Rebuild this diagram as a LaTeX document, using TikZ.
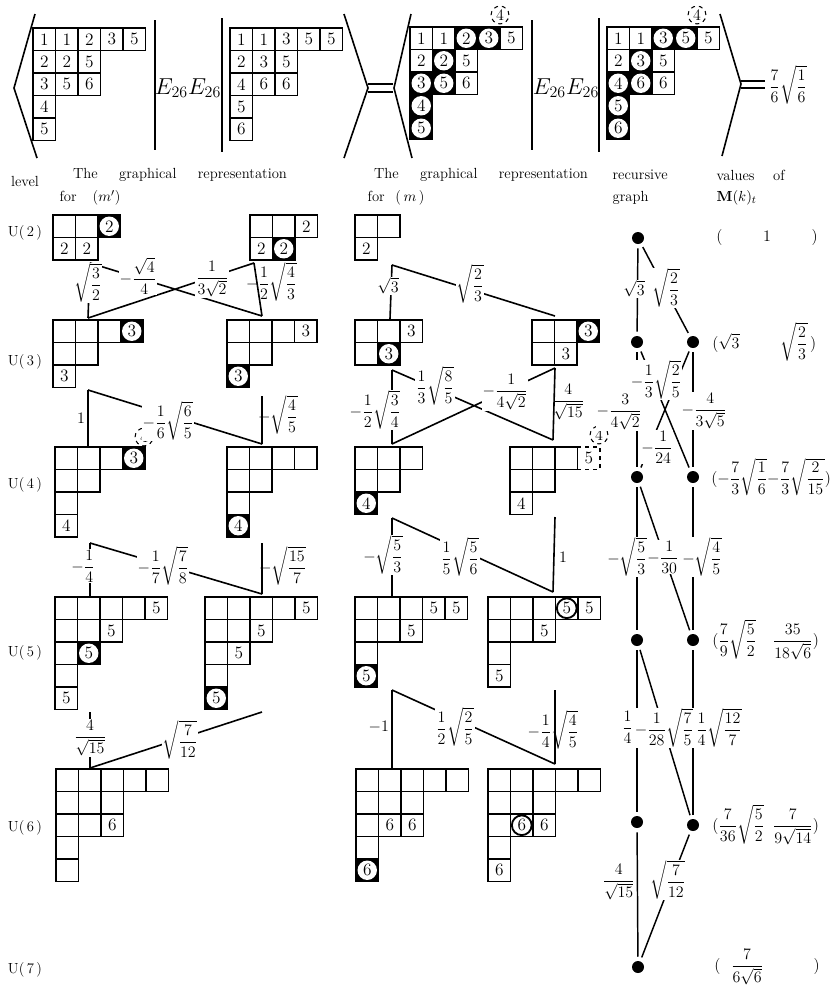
\documentclass[tikz,border=0pt]{standalone}
\usepackage{amsmath,amssymb}
\usepackage{tikz}
\usetikzlibrary{calc}

\tikzset{
  cl/.style={draw,line width=1.4pt,minimum size=16.9pt,inner sep=0pt,font=\fontsize{13}{15}\selectfont},
  cc/.style={cl,fill=black,path picture={\fill[white] (path picture bounding box.center) circle (7.3pt);}},
  cw/.style={cl,path picture={\draw[line width=1.4pt] (path picture bounding box.center) circle (7.4pt);}},
  cd/.style={cl,dashed,line width=1pt},
  dc/.style={circle,draw,dashed,line width=0.8pt,inner sep=1.2pt,font=\large},
  brk/.style={line width=1.2pt},
  conn/.style={line width=1.2pt},
  gedge/.style={line width=1.1pt,shorten <=3pt,shorten >=3pt},
  gdot/.style={circle,fill=black,inner sep=0pt,minimum size=9pt},
  lab/.style={fill=white,inner sep=0.6pt,font=\large},
  labn/.style={inner sep=0.6pt,font=\large},
  hd/.style={inner sep=1pt,font=\fontsize{11}{13}\selectfont},
  val/.style={inner sep=0pt,font=\large}
}

% one tableau: name, left, top, rows of entry/style
\newcommand{\tableau}[4]{%
  \foreach \row [count=\r from 0] in {#4}{%
    \foreach \e/\s [count=\i from 0] in \row{%
      \node[\s] (#1-\r-\i) at ({#2+\i*22.5+11.25},{#3+\r*22.5+11.25}) {\e};}}}

\begin{document}
\begin{tikzpicture}[x=0.75pt,y=-0.75pt]
  \useasboundingbox (0,0) rectangle (829,986);
  % Top identity
  \draw[brk] (35,14) -- (14,88) -- (37,158);
  \tableau{T1}{33}{28}{{1/cl,1/cl,2/cl,3/cl,5/cl},{2/cl,2/cl,5/cl},{3/cl,5/cl,6/cl},{4/cl},{5/cl}}
  \draw[brk] (155,20) -- (155,150);
  \node[inner sep=0pt] (E1) at (188,88) {\LARGE $E_{26}E_{26}$};
  \draw[brk] (222,18) -- (222,152);
  \tableau{T2}{230}{28}{{1/cl,1/cl,3/cl,5/cl,5/cl},{2/cl,3/cl,5/cl},{4/cl,6/cl,6/cl},{5/cl},{6/cl}}
  \draw[brk] (344,14) -- (368,88) -- (344,158);
  \draw[brk] (368,84) -- (393,84) (368,92) -- (393,92);
  \draw[brk] (411,14) -- (394,88) -- (412,158);
  \tableau{T3}{410}{27}{{1/cl,1/cl,2/cc,3/cc,5/cl},{2/cl,2/cc,5/cl},{3/cc,5/cc,6/cl},{4/cc},{5/cc}}
  \node[dc] (T3x) at (500,15) {4};
  \draw[brk] (532,20) -- (532,150);
  \node[inner sep=0pt] (E2) at (566,88) {\LARGE $E_{26}E_{26}$};
  \draw[brk] (599,18) -- (599,152);
  \tableau{T4}{607}{27}{{1/cl,1/cl,3/cc,5/cc,5/cl},{2/cl,3/cc,5/cl},{4/cc,6/cc,6/cl},{5/cc},{6/cc}}
  \node[dc] (T4x) at (697,15) {4};
  \draw[brk] (720,14) -- (741,84) -- (722,156);
  \draw[brk] (741,81) -- (765,81) (741,88) -- (765,88);
  \node[val] (val0) at (788,85) {$\dfrac{7}{6}\sqrt{\dfrac{1}{6}}$};
  % Headings
  \node[hd] (hlevel) at (25,181) {level};
  \node[hd] (hrep1) at (180,175) {The\hspace{16pt}graphical\hspace{16pt}representation};
  \node[hd] (hfor1) at (90,198) {for\hspace{12pt}($m'$)};
  \node[hd] (hrep2) at (481,175) {The\hspace{16pt}graphical\hspace{16pt}representation};
  \node[hd] (hfor2) at (396,198) {for\hspace{8pt}(\,$m$\,)};
  \node[hd,anchor=west] (hrec) at (611,175) {recursive};
  \node[hd,anchor=west] (hgraph) at (611,198) {graph};
  \node[hd,anchor=west] (hval) at (715,175) {values\hspace{14pt}of};
  \node[hd,anchor=west] (hM) at (715,198) {$\mathbf{M}(k)_{t}$};
  % Levels
  \foreach \k/\yy in {2/233,3/362,4/485,5/653,6/828,7/970}
    \node[hd] (lv\k) at (25,\yy) {U(\,\k\,)};
  % Tableaux for (m')
  \tableau{A2}{53}{215}{{/cl,/cl,2/cc},{2/cl,2/cl}}
  \tableau{B2}{250}{215}{{/cl,/cl,2/cl},{2/cl,2/cc}}
  \tableau{A3}{53}{320}{{/cl,/cl,/cl,3/cc},{/cl,/cl},{3/cl}}
  \tableau{B3}{227}{320}{{/cl,/cl,/cl,3/cl},{/cl,/cl},{3/cc}}
  \tableau{A4}{55}{447}{{/cl,/cl,/cl,3/cc},{/cl,/cl},{/cl},{4/cl}}
  \node[dc] (A4x) at (144,437) {4};
  \tableau{B4}{227}{447}{{/cl,/cl,/cl,/cl},{/cl,/cl},{/cl},{4/cc}}
  \tableau{A5}{55}{597}{{/cl,/cl,/cl,/cl,5/cl},{/cl,/cl,5/cl},{/cl,5/cc},{/cl},{5/cl}}
  \tableau{B5}{205}{597}{{/cl,/cl,/cl,/cl,5/cl},{/cl,/cl,5/cl},{/cl,5/cl},{/cl},{5/cc}}
  \tableau{A6}{56}{769}{{/cl,/cl,/cl,/cl,/cl},{/cl,/cl,/cl},{/cl,/cl,6/cl},{/cl},{/cl}}
  % Tableaux for (m)
  \tableau{C2}{355}{215}{{/cl,/cl},{2/cl}}
  \tableau{C3}{355}{320}{{/cl,/cl,3/cl},{/cl,3/cc}}
  \tableau{D3}{532}{320}{{/cl,/cl,3/cc},{/cl,3/cl}}
  \tableau{C4}{355}{447}{{/cl,/cl,/cl},{/cl,/cl},{4/cc}}
  \tableau{D4}{510}{447}{{/cl,/cl,/cl,5/cd},{/cl,/cl},{4/cl}}
  \node[dc] (D4x) at (599,435) {4};
  \tableau{C5}{355}{597}{{/cl,/cl,/cl,5/cl,5/cl},{/cl,/cl,5/cl},{/cl},{5/cc}}
  \tableau{D5}{488}{597}{{/cl,/cl,/cl,5/cw,5/cl},{/cl,/cl,5/cl},{/cl},{5/cl}}
  \tableau{C6}{356}{769}{{/cl,/cl,/cl,/cl,/cl},{/cl,/cl,/cl},{/cl,6/cl,6/cl},{/cl},{6/cc}}
  \tableau{D6}{488}{769}{{/cl,/cl,/cl,/cl,/cl},{/cl,/cl,/cl},{/cl,6/cw,6/cl},{/cl},{6/cl}}
  % Connection points
  \coordinate (a2b) at (90,263);  \coordinate (b2b) at (254,263);
  \coordinate (a3t) at (88,318);  \coordinate (b3t) at (262,316);
  \coordinate (a3b) at (88,390);  \coordinate (b3b) at (262,396);
  \coordinate (a4t) at (88,447);  \coordinate (b4t) at (262,444);
  \coordinate (a4b) at (90,543);  \coordinate (b4b) at (262,543);
  \coordinate (a5t) at (90,597);  \coordinate (b5t) at (262,594);
  \coordinate (a5b) at (90,712);  \coordinate (b5b) at (262,712);
  \coordinate (a6t) at (90,768);
  \coordinate (c2b) at (392,265);
  \coordinate (c3t) at (390,319); \coordinate (d3t) at (555,316);
  \coordinate (c3b) at (392,370); \coordinate (d3b) at (555,368);
  \coordinate (c4t) at (392,444); \coordinate (d4t) at (553,440);
  \coordinate (c4b) at (392,518); \coordinate (d4b) at (555,517);
  \coordinate (c5t) at (392,597); \coordinate (d5t) at (553,592);
  \coordinate (c5b) at (392,690); \coordinate (d5b) at (555,690);
  \coordinate (c6t) at (392,768); \coordinate (d6t) at (555,764);
  % Connectors (m')
  \draw[conn] (a2b) -- (a3t) (a2b) -- (b3t) (b2b) -- (a3t) (b2b) -- (b3t);
  \draw[conn] (a3b) -- (a4t) (a3b) -- (b4t) (b3b) -- (b4t);
  \draw[conn] (a4b) -- (a5t) (a4b) -- (b5t) (b4b) -- (b5t);
  \draw[conn] (a5b) -- (a6t) (b5b) -- (a6t);
  % Connectors (m)
  \draw[conn] (c2b) -- (c3t) (c2b) -- (d3t);
  \draw[conn] (c3b) -- (c4t) (c3b) -- (d4t) (d3b) -- (c4t) (d3b) -- (d4t);
  \draw[conn] (c4b) -- (c5t) (c4b) -- (d5t) (d4b) -- (d5t);
  \draw[conn] (c5b) -- (c6t) (c5b) -- (d6t) (d5b) -- (d6t);
  % Labels (m')
  \node[lab] (l1) at (88,283) {$\sqrt{\dfrac{3}{2}}$};
  \node[lab] (l2) at (138,276) {$-\dfrac{\sqrt{4}}{4}$};
  \node[lab] (l3) at (212,279) {$\dfrac{1}{3\sqrt{2}}$};
  \node[labn,anchor=west] (l4) at (245,282) {$-\dfrac{1}{2}\sqrt{\dfrac{4}{3}}$};
  \node[labn,anchor=east] (l5) at (86,418) {$1$};
  \node[lab] (l6) at (168,421) {$-\dfrac{1}{6}\sqrt{\dfrac{6}{5}}$};
  \node[labn,anchor=west] (l7) at (257,415) {$-\sqrt{\dfrac{4}{5}}$};
  \node[lab] (l8) at (83,566) {$-\dfrac{1}{4}$};
  \node[lab] (l9) at (163,566) {$-\dfrac{1}{7}\sqrt{\dfrac{7}{8}}$};
  \node[labn,anchor=west] (l10) at (258,566) {$-\sqrt{\dfrac{15}{7}}$};
  \node[lab] (l11) at (90,738) {$\dfrac{4}{\sqrt{15}}$};
  \node[lab] (l12) at (180,740) {$\sqrt{\dfrac{7}{12}}$};
  % Labels (m)
  \node[lab] (l13) at (388,286) {$\sqrt{3}$};
  \node[lab] (l14) at (470,284) {$\sqrt{\dfrac{2}{3}}$};
  \node[lab] (l15) at (375,410) {$-\dfrac{1}{2}\sqrt{\dfrac{3}{4}}$};
  \node[lab] (l16) at (435,386) {$\dfrac{1}{3}\sqrt{\dfrac{8}{5}}$};
  \node[lab] (l17) at (505,392) {$-\dfrac{1}{4\sqrt{2}}$};
  \node[labn,anchor=west] (l18) at (551,402) {$\dfrac{4}{\sqrt{15}}$};
  \node[lab] (l19) at (383,555) {$-\sqrt{\dfrac{5}{3}}$};
  \node[lab] (l20) at (460,557) {$\dfrac{1}{5}\sqrt{\dfrac{5}{6}}$};
  \node[labn,anchor=west] (l21) at (558,557) {$1$};
  \node[labn,anchor=east] (l22) at (390,727) {$-1$};
  \node[lab] (l23) at (455,727) {$\dfrac{1}{2}\sqrt{\dfrac{2}{5}}$};
  \node[labn] (l24) at (553,730) {$-\dfrac{1}{4}\sqrt{\dfrac{4}{5}}$};
  % Recursive graph
  \node[gdot] (L2) at (638,238) {};
  \node[gdot] (L3) at (637,342) {};  \node[gdot] (R3) at (693,342) {};
  \node[gdot] (L4) at (637,477) {};  \node[gdot] (R4) at (693,477) {};
  \node[gdot] (L5) at (637,640) {};  \node[gdot] (R5) at (693,640) {};
  \node[gdot] (L6) at (637,822) {};  \node[gdot] (R6) at (693,825) {};
  \node[gdot] (L7) at (638,967) {};
  \draw[gedge] (L2) -- (L3);  \draw[gedge] (L2) -- (R3);
  \draw[gedge] (L3) -- (L4);  \draw[gedge] (L3) -- (R4);
  \draw[gedge] (R3) -- (L4);  \draw[gedge] (R3) -- (R4);
  \draw[gedge] (L4) -- (L5);  \draw[gedge] (L4) -- (R5);
  \draw[gedge] (R4) -- (R5);
  \draw[gedge] (L5) -- (L6);  \draw[gedge] (L5) -- (R6);
  \draw[gedge] (R5) -- (R6);
  \draw[gedge] (L6) -- (L7);  \draw[gedge] (R6) -- (L7);
  \node[lab] (g1) at (634,289) {$\sqrt{3}$};
  \node[lab] (g2) at (666,288) {$\sqrt{\dfrac{2}{3}}$};
  \node[lab] (g3) at (656,380) {$-\dfrac{1}{3}\sqrt{\dfrac{2}{5}}$};
  \node[lab] (g4) at (619,412) {$-\dfrac{3}{4\sqrt{2}}$};
  \node[lab] (g5) at (704,411) {$-\dfrac{4}{3\sqrt{5}}$};
  \node[lab] (g6) at (657,447) {$-\dfrac{1}{24}$};
  \node[lab] (g7) at (627,557) {$-\sqrt{\dfrac{5}{3}}$};
  \node[lab] (g8) at (663,557) {$-\dfrac{1}{30}$};
  \node[lab] (g9) at (702,557) {$-\sqrt{\dfrac{4}{5}}$};
  \node[labn,anchor=east] (g10) at (634,727) {$\dfrac{1}{4}$};
  \node[lab] (g11) at (664,728) {$-\dfrac{1}{28}\sqrt{\dfrac{7}{5}}$};
  \node[labn,anchor=west] (g12) at (695,728) {$\dfrac{1}{4}\sqrt{\dfrac{12}{7}}$};
  \node[labn,anchor=east] (g13) at (636,882) {$\dfrac{4}{\sqrt{15}}$};
  \node[lab] (g14) at (668,880) {$\sqrt{\dfrac{7}{12}}$};
  % Values of M(k)
  \node[val] (v2) at (767,237) {\hbox to 76pt{$($\hfil$1$\hfil$)$}};
  \node[val,anchor=west] (v3) at (712,342) {\hbox to 78pt{$(\sqrt{3}$\hfil$\sqrt{\dfrac{2}{3}}\,)$}};
  \node[val,anchor=west,font=\fontsize{11.5}{13}\selectfont] (v4) at (711,477) {\hbox to 80pt{$(-\dfrac{7}{3}\sqrt{\dfrac{1}{6}}$\hfil$-\dfrac{7}{3}\sqrt{\dfrac{2}{15}})$}};
  \node[val,anchor=west] (v5) at (712,640) {\hbox to 80pt{$(\dfrac{7}{9}\sqrt{\dfrac{5}{2}}$\hfil$\dfrac{35}{18\sqrt{6}})$}};
  \node[val,anchor=west] (v6) at (712,825) {\hbox to 80pt{$(\dfrac{7}{36}\sqrt{\dfrac{5}{2}}$\hfil$\dfrac{7}{9\sqrt{14}})$}};
  \node[val,anchor=west] (v7) at (714,967) {\hbox to 79pt{$($\hspace{8pt}$\dfrac{7}{6\sqrt{6}}$\hfil$)$}};
\end{tikzpicture}
\end{document}
